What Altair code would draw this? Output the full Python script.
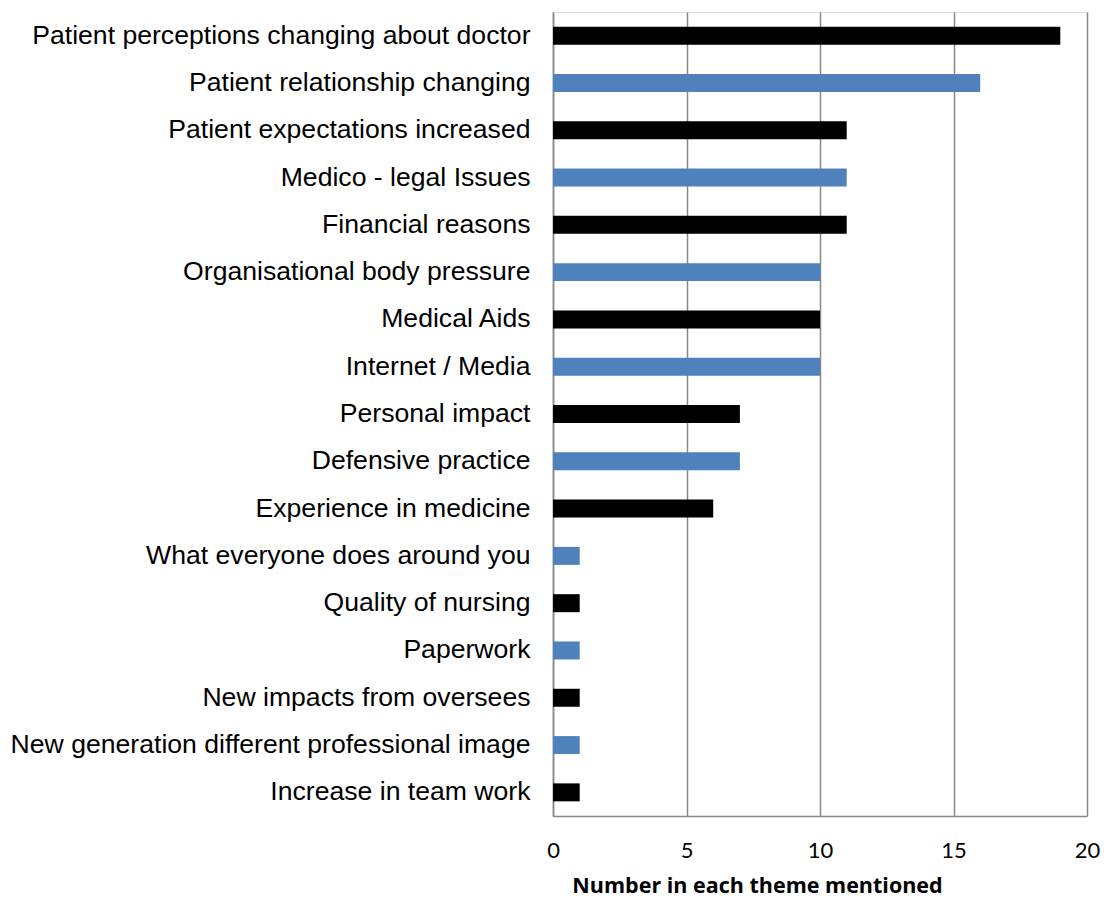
import altair as alt
import pandas as pd

themes = [
    "Patient perceptions changing about doctor",
    "Patient relationship changing",
    "Patient expectations increased",
    "Medico - legal Issues",
    "Financial reasons",
    "Organisational body pressure",
    "Medical Aids",
    "Internet / Media",
    "Personal impact",
    "Defensive practice",
    "Experience in medicine",
    "What everyone does around you",
    "Quality of nursing",
    "Paperwork",
    "New impacts from oversees",
    "New generation different professional image",
    "Increase in team work",
]
counts = [19, 16, 11, 11, 11, 10, 10, 10, 7, 7, 6, 1, 1, 1, 1, 1, 1]
x_ticks = [0, 5, 10, 15, 20]

df = pd.DataFrame({
    "theme": themes,
    "count": counts,
    "shade": ["dark" if i % 2 == 0 else "blue" for i in range(len(themes))],
})

chart = alt.Chart(df).mark_bar().encode(
    y=alt.Y(
        "theme:N",
        sort=themes,
        scale=alt.Scale(paddingInner=0.62, paddingOuter=0.31),
        axis=alt.Axis(
            title=None,
            ticks=False,
            labelPadding=23,
            labelFont="Liberation Sans",
            labelFontSize=26.6,
            labelColor="#000000",
            labelLimit=1000,
            domain=True,
            domainColor="#888888",
            domainWidth=1.5,
            grid=False,
        ),
    ),
    x=alt.X(
        "count:Q",
        scale=alt.Scale(domain=[0, 20], nice=False),
        axis=alt.Axis(
            values=x_ticks,
            title="Number in each theme mentioned",
            titleFont="Open Sans",
            titleFontSize=21.5,
            titleFontWeight="bold",
            titleColor="#000000",
            titleX=204,
            titleY=70,
            titleAlign="center",
            titleBaseline="middle",
            labelFont="Lato",
            labelFontSize=22,
            labelColor="#000000",
            labelPadding=24,
            ticks=False,
            domain=True,
            domainColor="#888888",
            domainWidth=1.5,
            grid=True,
            gridColor="#888888",
            gridWidth=1.5,
            labelFlush=False,
        ),
    ),
    color=alt.Color(
        "shade:N",
        scale=alt.Scale(domain=["dark", "blue"], range=["#000000", "#4F81BD"]),
        legend=None,
    ),
).properties(
    width=534,
    height=804,
    autosize=alt.AutoSizeParams(type="none"),
    padding={"left": 545, "top": 4, "right": 15, "bottom": 88},
).configure_view(stroke=None).configure(background="white")

chart.save("out.html", embed_options={"renderer": "svg", "actions": False})
